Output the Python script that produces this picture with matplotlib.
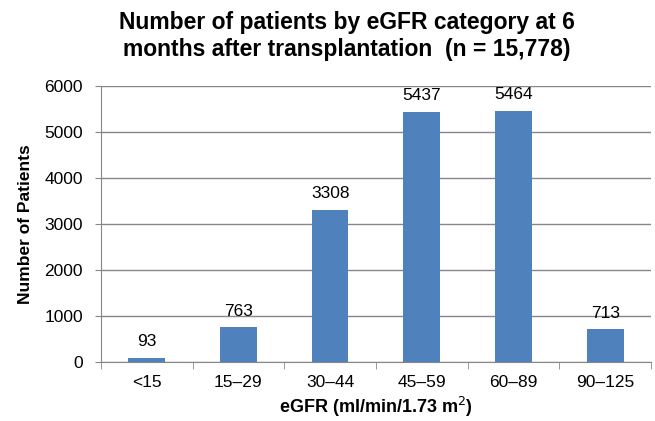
import numpy as np
import matplotlib.pyplot as plt

plt.rcParams['font.family'] = ['Liberation Sans', 'DejaVu Sans']

categories = ["<15", "15\u201329", "30\u201344", "45\u201359", "60\u201389", "90\u2013125"]
patients = [93, 763, 3308, 5437, 5464, 713]

fig = plt.figure(figsize=(6.55, 4.21), dpi=100)
ax = fig.add_axes([0.154, 0.140, 0.840, 0.656])

x = np.arange(len(categories))
ax.bar(x, patients, width=0.4, color="#4F81BD", zorder=3)

for xi, v in zip(x, patients):
    ax.annotate(str(v), (xi, v), xytext=(0, 6), textcoords="offset points",
                ha="center", va="bottom", fontsize=12.5, zorder=4)

ax.set_xlim(-0.5, len(categories) - 0.5)
ax.set_ylim(0, 6000)
ax.set_yticks(np.arange(0, 6001, 1000))
ax.yaxis.grid(True, color="#878787", linewidth=1, zorder=0)

ax.set_xticks(x)
ax.set_xticklabels(categories)
ax.set_xticks(np.arange(-0.5, len(categories)), minor=True)
ax.tick_params(axis="x", which="major", length=0, labelsize=12.5, pad=9)
ax.tick_params(axis="x", which="minor", length=5, color="#878787", direction="out")
ax.tick_params(axis="y", length=4, color="#878787", labelsize=12.5, pad=9)

for s in ["top", "right"]:
    ax.spines[s].set_visible(False)
for s in ["left", "bottom"]:
    ax.spines[s].set_color("#878787")

ax.set_xlabel("eGFR (ml/min/1.73 m$^2$)", fontsize=13, fontweight="bold", labelpad=4)
ax.set_ylabel("Number of Patients", fontsize=12.5, fontweight="bold", labelpad=8)
fig.text(0.53, 0.973, "Number of patients by eGFR category at 6\nmonths after transplantation  (n = 15,778)",
         ha="center", va="top", fontsize=16.5, fontweight="bold", linespacing=1.2)

fig.savefig("out.png", dpi=100)
